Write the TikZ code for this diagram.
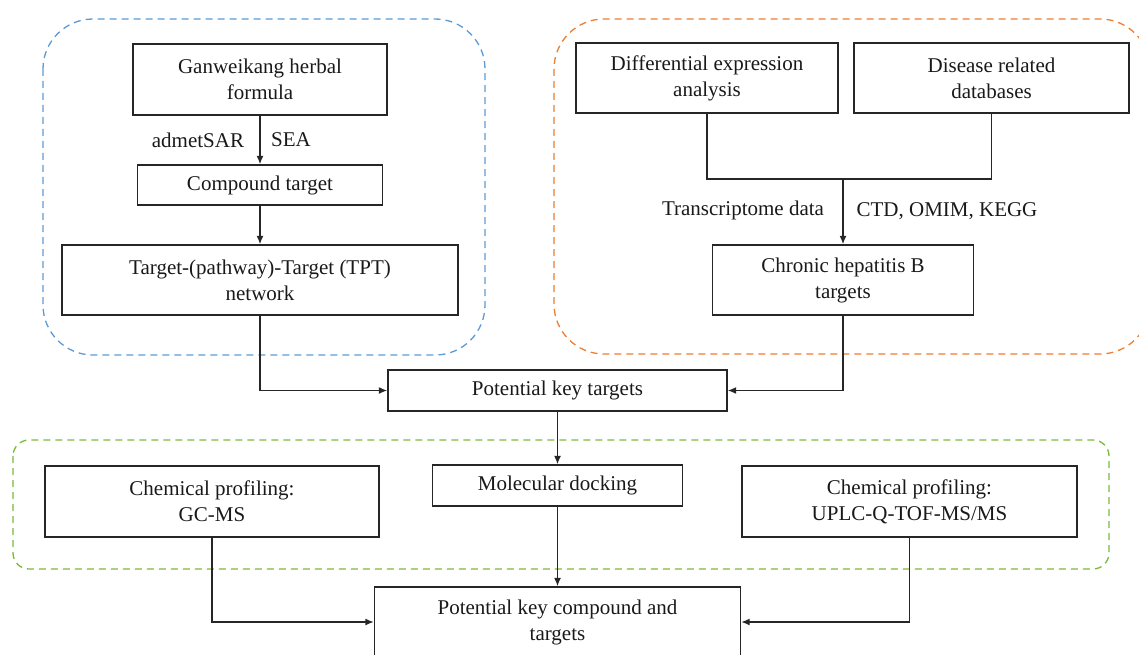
\documentclass[tikz,border=0pt]{standalone}
\usepackage{fontspec}
\setmainfont{Liberation Serif}
\usetikzlibrary{arrows.meta}
\definecolor{cblue}{RGB}{91,155,213}
\definecolor{corange}{RGB}{237,125,49}
\definecolor{cgreen}{RGB}{122,186,58}
\begin{document}
\begin{tikzpicture}[x=1pt,y=-1pt,
  every node/.style={font=\fontsize{21}{26}\selectfont, text=black!90},
  box/.style={draw=black!85, line width=1.4pt, align=center, inner sep=0pt},
  lbl/.style={inner sep=0pt},
  conn/.style={draw=black!85, line width=1.4pt},
  arr/.style={conn, -{Latex[length=8.5pt,width=7pt]}},
  group/.style={line width=1.3pt, dash pattern=on 7pt off 5pt}]
\useasboundingbox (0,0) rectangle (1139,655);
\clip (0,0) rectangle (1139,655);

% dashed groups
\draw[group, cblue, rounded corners=50pt] (43,19) rectangle (485,355);
\draw[group, corange, rounded corners=50pt] (554,19) rectangle (1150,354);
\draw[group, cgreen, rounded corners=16pt] (13,440) rectangle (1109,569);

% left group
\node[box, minimum width=254pt, minimum height=71pt] (g) at (260,79.5) {Ganweikang herbal\\formula};
\node[box, minimum width=245pt, minimum height=40pt] (ct) at (260,185) {Compound target};
\node[box, minimum width=396pt, minimum height=70pt] (tpt) at (260,280) {Target-(pathway)-Target (TPT)\\network};
\node[lbl] (l1) at (198,140) {admetSAR};
\node[lbl] (l2) at (291,140) {SEA};

% right group
\node[box, minimum width=262pt, minimum height=70pt] (diff) at (707,78) {Differential expression\\analysis};
\node[box, minimum width=275pt, minimum height=70pt] (dis) at (991.5,78) {Disease related\\databases};
\node[box, minimum width=261pt, minimum height=70pt] (chb) at (843,280) {Chronic hepatitis B\\targets};
\coordinate (j) at (843,179);
\node[lbl] (l3) at (743,210) {Transcriptome data};
\node[lbl] (l4) at (947,211) {CTD, OMIM, KEGG};

% middle
\node[box, minimum width=339pt, minimum height=41pt] (pkt) at (557.5,390.5) {Potential key targets};

% bottom group
\node[box, minimum width=334pt, minimum height=71pt] (gc) at (212,501.5) {Chemical profiling:\\GC-MS};
\node[box, minimum width=250pt, minimum height=41pt] (md) at (557.5,485.5) {Molecular docking};
\node[box, minimum width=335pt, minimum height=71pt] (up) at (909.5,501.5) {Chemical profiling:\\UPLC-Q-TOF-MS/MS};
\node[box, minimum width=366pt, minimum height=70pt] (pkc) at (557.5,622) {Potential key compound and\\targets};

% connectors
\draw[arr] (g.south) -- (ct.north);
\draw[arr] (ct.south) -- (tpt.north);
\draw[arr] (tpt.south) |- (pkt.west);
\draw[conn] (diff.south) |- (j) -| (dis.south);
\draw[arr] (j) -- (chb.north);
\draw[arr] (chb.south) |- (pkt.east);
\draw[arr] (pkt.south) -- (md.north);
\draw[arr] (md.south) -- (pkc.north);
\draw[arr] (gc.south) |- (pkc.west);
\draw[arr] (up.south) |- (pkc.east);
\end{tikzpicture}
\end{document}
